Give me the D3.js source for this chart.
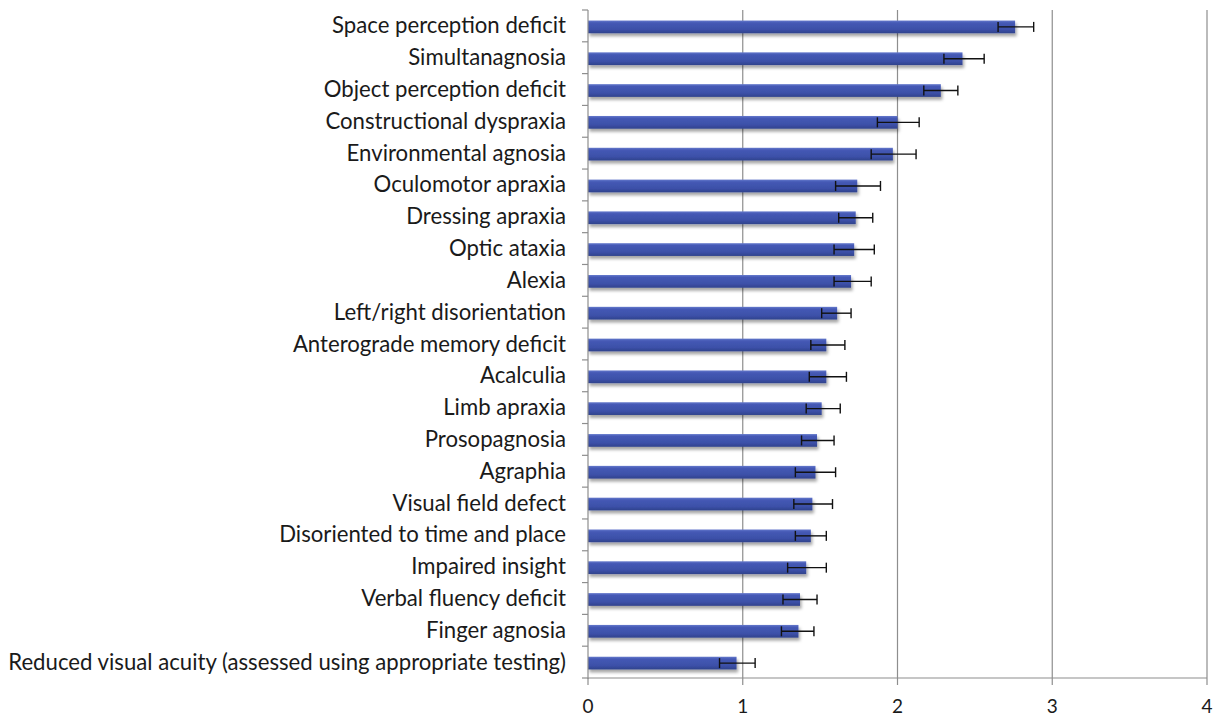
<!DOCTYPE html>
<html>
<head>
<meta charset="utf-8">
<script src="https://cdn.jsdelivr.net/npm/d3@7"></script>
<style>
  html, body { margin: 0; padding: 0; background: #fff; }
  svg { display: block; }
  text { font-family: Lato, "Open Sans", sans-serif; fill: #1a1a1a; }
</style>
</head>
<body>
<script>
const categories = [
  "Space perception deficit",
  "Simultanagnosia",
  "Object perception deficit",
  "Constructional dyspraxia",
  "Environmental agnosia",
  "Oculomotor apraxia",
  "Dressing apraxia",
  "Optic ataxia",
  "Alexia",
  "Left/right disorientation",
  "Anterograde memory deficit",
  "Acalculia",
  "Limb apraxia",
  "Prosopagnosia",
  "Agraphia",
  "Visual field defect",
  "Disoriented to time and place",
  "Impaired insight",
  "Verbal fluency deficit",
  "Finger agnosia",
  "Reduced visual acuity (assessed using appropriate testing)"
];
const values = [2.76, 2.42, 2.28, 2.00, 1.97, 1.74, 1.73, 1.72, 1.70, 1.61, 1.54, 1.54, 1.51, 1.48, 1.47, 1.45, 1.44, 1.41, 1.37, 1.36, 0.96];
const errLow = [2.65, 2.30, 2.17, 1.87, 1.83, 1.60, 1.62, 1.59, 1.59, 1.51, 1.44, 1.43, 1.41, 1.38, 1.34, 1.33, 1.34, 1.29, 1.26, 1.25, 0.85];
const errHigh = [2.88, 2.56, 2.39, 2.14, 2.12, 1.89, 1.84, 1.85, 1.83, 1.70, 1.66, 1.67, 1.63, 1.59, 1.60, 1.58, 1.54, 1.54, 1.48, 1.46, 1.08];
const xTicks = [0, 1, 2, 3, 4];

const W = 1221, H = 719;
const pLeft = 588, pRight = 1207, pTop = 10, pBottom = 678;

const svg = d3.select("body").append("svg").attr("width", W).attr("height", H);

const defs = svg.append("defs");
const grad = defs.append("linearGradient").attr("id", "barGrad")
  .attr("x1", 0).attr("y1", 0).attr("x2", 0).attr("y2", 1);
grad.append("stop").attr("offset", "0%").attr("stop-color", "#6579cc");
grad.append("stop").attr("offset", "18%").attr("stop-color", "#4559b5");
grad.append("stop").attr("offset", "70%").attr("stop-color", "#3c50a8");
grad.append("stop").attr("offset", "100%").attr("stop-color", "#30428c");
const filt = defs.append("filter").attr("id", "shadow")
  .attr("x", "-5%").attr("y", "-50%").attr("width", "115%").attr("height", "220%");
filt.append("feDropShadow").attr("dx", 1.5).attr("dy", 3).attr("stdDeviation", 1.6)
  .attr("flood-color", "#000").attr("flood-opacity", 0.35);

const x = d3.scaleLinear().domain([0, 4]).range([pLeft, pRight]);
const y = d3.scaleBand().domain(categories).range([pTop, pBottom]).paddingInner(0.6).paddingOuter(0.3);
const yb = d3.scaleBand().domain(categories).range([pTop, pBottom]);

// gridlines
svg.append("g").selectAll("line").data(xTicks.slice(1)).join("line")
  .attr("x1", d => x(d)).attr("x2", d => x(d))
  .attr("y1", pTop).attr("y2", pBottom)
  .attr("stroke", "#8e8e8e").attr("stroke-width", 1.2);

// bars
svg.append("g").selectAll("rect").data(categories).join("rect")
  .attr("x", x(0))
  .attr("y", d => y(d) + 1)
  .attr("width", (d, i) => x(values[i]) - x(0))
  .attr("height", y.bandwidth())
  .attr("fill", "url(#barGrad)")
  .attr("filter", "url(#shadow)");

// error bars
const eg = svg.append("g").attr("stroke", "#111").attr("stroke-width", 1.4);
categories.forEach((c, i) => {
  const cy = y(c) + 1 + y.bandwidth() / 2;
  eg.append("line").attr("x1", x(errLow[i])).attr("x2", x(errHigh[i])).attr("y1", cy).attr("y2", cy);
  eg.append("line").attr("x1", x(errLow[i])).attr("x2", x(errLow[i])).attr("y1", cy - 5).attr("y2", cy + 5);
  eg.append("line").attr("x1", x(errHigh[i])).attr("x2", x(errHigh[i])).attr("y1", cy - 5).attr("y2", cy + 5);
});

// y axis (category ticks at band boundaries)
const ya = svg.append("g").attr("stroke", "#8e8e8e").attr("stroke-width", 1.2);
ya.append("line").attr("x1", pLeft).attr("x2", pLeft).attr("y1", pTop).attr("y2", pBottom + 1);
const bounds = categories.map(c => yb(c)).concat([pBottom]);
ya.selectAll(".t").data(bounds).join("line")
  .attr("x1", pLeft - 6).attr("x2", pLeft).attr("y1", d => d).attr("y2", d => d);

// x axis
const xa = svg.append("g").attr("stroke", "#8e8e8e").attr("stroke-width", 1.2);
xa.append("line").attr("x1", pLeft).attr("x2", pRight).attr("y1", pBottom).attr("y2", pBottom);
xa.selectAll(".t").data(xTicks).join("line")
  .attr("x1", d => x(d)).attr("x2", d => x(d)).attr("y1", pBottom).attr("y2", pBottom + 7);

svg.append("g").selectAll("text").data(xTicks).join("text")
  .attr("x", d => x(d)).attr("y", 713)
  .attr("text-anchor", "middle")
  .attr("font-size", 19)
  .text(d => d);

// category labels
const labels = svg.append("g").selectAll("text").data(categories).join("text")
  .attr("x", 566)
  .attr("y", d => yb(d) + yb.bandwidth() / 2 + 7.5)
  .attr("text-anchor", "end")
  .attr("font-size", 20)
  .text(d => d);
// fit font size so that the longest label spans the same width as in the reference
const longest = labels.filter((d, i) => i === categories.length - 1).node();
const wNow = longest.getComputedTextLength();
const fs = 20 * 558 / wNow;
labels.attr("font-size", fs);
</script>
</body>
</html>
